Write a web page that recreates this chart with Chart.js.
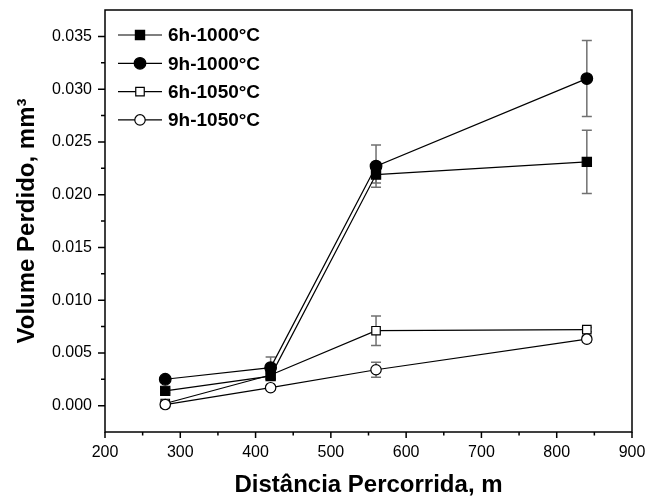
<!DOCTYPE html>
<html>
<head>
<meta charset="utf-8">
<script src="https://cdn.jsdelivr.net/npm/chart.js@4.4.1/dist/chart.umd.min.js"></script>
<style>
    body { margin: 0; background: #fff; }
    #wrap { width: 646px; height: 500px; }
</style>
</head>
<body>
<div id="wrap"><canvas id="chart"></canvas></div>
<script>
// Dados
const distances = [280, 420, 560, 840];

const vol6h1000 = [0.0014, 0.0028, 0.0219, 0.0231];
const err6h1000 = [0.0002, 0.0003, 0.0008, 0.0030];
const vol9h1000 = [0.0025, 0.0036, 0.0227, 0.0310];
const err9h1000 = [0.0002, 0.0010, 0.0020, 0.0036];
const vol6h1050 = [0.0002, 0.0029, 0.0071, 0.0072];
const err6h1050 = [0.0002, 0.0004, 0.0014, 0.0002];
const vol9h1050 = [0.0001, 0.0017, 0.0034, 0.0063];
const err9h1050 = [0.0002, 0.0002, 0.0007, 0.0003];

const xTicks = [200, 300, 400, 500, 600, 700, 800, 900];
const yTicks = [0, 0.005, 0.010, 0.015, 0.020, 0.025, 0.030, 0.035];

const FONT = "'Liberation Sans', Arial, Helvetica, sans-serif";

function makeDataset(label, values, errors, style, filled, radius, order) {
    return {
        label: label,
        data: distances.map((d, i) => ({ x: d, y: values[i] })),
        errors: errors,
        borderColor: '#000',
        borderWidth: 1.2,
        pointStyle: style,
        pointRadius: radius,
        pointHoverRadius: radius,
        pointBackgroundColor: filled ? '#000' : '#fff',
        pointBorderColor: '#000',
        pointBorderWidth: 1.2,
        fill: false,
        tension: 0,
        order: order
    };
}

// sem margem extra por causa dos rótulos
function noPadding(s) {
    s.paddingTop = 0;
    s.paddingBottom = 0;
    s.paddingLeft = 0;
    s.paddingRight = 0;
}

// Barras de erro desenhadas pelas escalas do Chart.js
const errorBars = {
    id: 'errorBars',
    beforeDatasetsDraw(chart) {
        const { ctx, scales: { x, y } } = chart;
        ctx.save();
        ctx.strokeStyle = '#707070';
        ctx.lineWidth = 1.5;
        chart.data.datasets.forEach((ds) => {
            ds.data.forEach((p, i) => {
                const err = ds.errors[i];
                const px = x.getPixelForValue(p.x);
                const top = y.getPixelForValue(p.y + err);
                const bottom = y.getPixelForValue(p.y - err);
                ctx.beginPath();
                ctx.moveTo(px, top); ctx.lineTo(px, bottom);
                ctx.moveTo(px - 5, top); ctx.lineTo(px + 5, top);
                ctx.moveTo(px - 5, bottom); ctx.lineTo(px + 5, bottom);
                ctx.stroke();
            });
        });
        ctx.restore();
    }
};

// Moldura, marcas de escala e legenda
const frameAndLegend = {
    id: 'frameAndLegend',
    afterDraw(chart) {
        const { ctx, chartArea: a, scales: { x, y } } = chart;
        ctx.save();
        ctx.strokeStyle = '#000';
        ctx.lineWidth = 1.5;
        ctx.strokeRect(a.left, a.top, a.right - a.left, a.bottom - a.top);

        ctx.beginPath();
        xTicks.forEach((v, i) => {
            const px = x.getPixelForValue(v);
            ctx.moveTo(px, a.bottom); ctx.lineTo(px, a.bottom + 6);
            if (i < xTicks.length - 1) {
                const m = x.getPixelForValue((v + xTicks[i + 1]) / 2);
                ctx.moveTo(m, a.bottom); ctx.lineTo(m, a.bottom + 3.5);
            }
        });
        yTicks.forEach((v, i) => {
            const py = y.getPixelForValue(v);
            ctx.moveTo(a.left, py); ctx.lineTo(a.left - 7, py);
            if (i < yTicks.length - 1) {
                const m = y.getPixelForValue((v + yTicks[i + 1]) / 2);
                ctx.moveTo(a.left, m); ctx.lineTo(a.left - 4, m);
            }
        });
        ctx.stroke();

        // legenda
        const lx = a.left + 13;
        chart.data.datasets.forEach((ds, i) => {
            const ly = a.top + 25 + i * 28.3;
            ctx.beginPath();
            ctx.lineWidth = 1.2;
            ctx.strokeStyle = '#000';
            ctx.moveTo(lx, ly); ctx.lineTo(lx + 44, ly);
            ctx.stroke();
            ctx.fillStyle = ds.pointBackgroundColor;
            ctx.strokeStyle = '#000';
            ctx.lineWidth = 1.2;
            Chart.helpers.drawPoint(ctx, {
                pointStyle: ds.pointStyle,
                radius: ds.pointRadius,
                rotation: 0,
                borderWidth: 1.2
            }, lx + 22, ly);
            ctx.fillStyle = '#000';
            ctx.font = 'bold 19px ' + FONT;
            ctx.textAlign = 'left';
            ctx.textBaseline = 'middle';
            ctx.fillText(ds.label, lx + 50, ly + 1);
        });
        ctx.restore();
    }
};

new Chart(document.getElementById('chart'), {
    type: 'line',
    data: {
        datasets: [
            makeDataset('6h-1000°C', vol6h1000, err6h1000, 'rect', true, 6.5, 1),
            makeDataset('9h-1000°C', vol9h1000, err9h1000, 'circle', true, 5.8, 0),
            makeDataset('6h-1050°C', vol6h1050, err6h1050, 'rect', false, 6, 3),
            makeDataset('9h-1050°C', vol9h1050, err9h1050, 'circle', false, 5.2, 2)
        ]
    },
    options: {
        responsive: true,
        maintainAspectRatio: false,
        animation: false,
        layout: { padding: { top: 10, right: 14, left: 0, bottom: 0 } },
        plugins: {
            legend: { display: false },
            tooltip: { enabled: false }
        },
        scales: {
            x: {
                type: 'linear',
                min: 200,
                max: 900,
                afterBuildTicks: (s) => { s.ticks = xTicks.map(v => ({ value: v })); },
                afterFit: (s) => { s.height = 68; noPadding(s); },
                grid: { display: false, drawTicks: false },
                border: { display: false },
                ticks: {
                    color: '#000',
                    padding: 11,
                    maxRotation: 0,
                    font: { family: FONT, size: 16 },
                    callback: (v) => String(v)
                },
                title: {
                    display: true,
                    text: 'Distância Percorrida, m',
                    color: '#000',
                    padding: { top: 0, bottom: 0 },
                    font: { family: FONT, size: 24, weight: 'bold' }
                }
            },
            y: {
                type: 'linear',
                min: -0.0025,
                max: 0.0375,
                afterBuildTicks: (s) => { s.ticks = yTicks.map(v => ({ value: v })); },
                afterFit: (s) => { s.width = 105; noPadding(s); },
                grid: { display: false, drawTicks: false },
                border: { display: false },
                ticks: {
                    color: '#000',
                    padding: 13,
                    font: { family: FONT, size: 16 },
                    callback: (v) => Number(v).toFixed(3)
                },
                title: {
                    display: true,
                    text: 'Volume Perdido, mm³',
                    color: '#000',
                    padding: { top: 13, bottom: 0 },
                    font: { family: FONT, size: 24, weight: 'bold' }
                }
            }
        }
    },
    plugins: [errorBars, frameAndLegend]
});
</script>
</body>
</html>
